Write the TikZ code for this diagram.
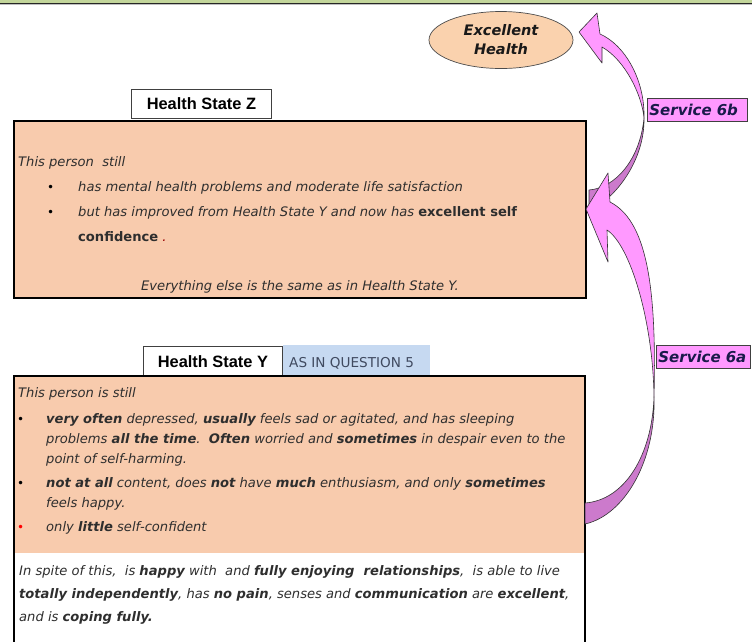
\documentclass[tikz,border=0pt]{standalone}
\usepackage{fontspec}
\setmainfont{DejaVu Sans}
\newfontfamily\lsans{Liberation Sans}
\usetikzlibrary{shapes.geometric}
\definecolor{peach}{HTML}{F8CBAD}
\definecolor{ellfill}{HTML}{FAD2AE}
\definecolor{pinkf}{HTML}{FF99FF}
\definecolor{pinkb}{HTML}{CC7ACC}
\definecolor{skyb}{HTML}{C6D9F1}
\definecolor{barg}{HTML}{C3D69B}
\definecolor{navy}{HTML}{1A1A4A}
\definecolor{txtc}{HTML}{2E2E2E}
\definecolor{qcol}{HTML}{404A60}
\tikzset{
  txt/.style={font=\fontsize{13.1}{15}\selectfont\itshape, text=txtc, inner sep=0pt, anchor=base west},
  dot/.style={font=\fontsize{12}{14}\selectfont, inner sep=0pt, anchor=base west},
  titlebox/.style={draw=black!75, line width=0.9pt, fill=white, inner sep=0pt,
    font=\lsans\bfseries\fontsize{16.4}{18}\selectfont},
  svc/.style={draw=black!75, line width=0.8pt, fill=pinkf, anchor=north west,
    inner xsep=2pt, inner ysep=0pt, minimum height=23pt, align=left,
    font=\bfseries\itshape\fontsize{15}{17}\selectfont, text=navy},
  arrowline/.style={draw=black!80, line width=0.6pt, line join=round},
  boxline/.style={draw=black, line width=1.8pt}
}
\begin{document}
\begin{tikzpicture}[x=1pt,y=-1pt]
\useasboundingbox (0,0) rectangle (752,641);
\fill[white] (0,0) rectangle (752,641);

% top rule
\fill[barg] (0,0) rectangle (752,3);
\fill[black!85] (0,3) rectangle (752,4.3);
\fill[black!25] (0,4.3) rectangle (752,5.3);

% goal state
\node[ellipse, draw=black!70, line width=0.7pt, fill=ellfill, minimum width=144pt, minimum height=57pt,
      inner sep=0pt, align=center, font=\bfseries\itshape\fontsize{14.5}{19}\selectfont, text=black!90]
      (eh) at (501,40) {Excellent\\Health};

% ---------- Health State Z ----------
\node[titlebox, minimum width=140pt, minimum height=29pt, anchor=north west] (zt) at (131,89) {Health State Z};
\path[fill=peach, boxline] (14,121) rectangle (586,298);

\node[txt] (z0) at (18,166.5) {This person\ \ still};
\node[dot] (zb1) at (47,191.5) {•};
\node[txt] (z1) at (78,191.5) {has mental health problems and moderate life satisfaction};
\node[dot] (zb2) at (47,216.5) {•};
\node[txt] (z2) at (78,216.5) {but has improved from Health State Y and now has \textbf{\upshape excellent self}};
\node[txt] (z3) at (78,241.5) {\textbf{\upshape confidence} \textcolor{red!60!black}{.}};
\node[txt, anchor=base] (z4) at (300,290.5) {Everything else is the same as in Health State Y.};

% ---------- Health State Y ----------
\node[titlebox, minimum width=139pt, minimum height=30pt, anchor=north west] (yt) at (143,346) {Health State Y};
\node[fill=skyb, minimum width=147pt, minimum height=31pt, anchor=north west, inner sep=0pt] (yq) at (282.5,345) {};
\node[inner sep=0pt, anchor=base west, font=\fontsize{13.6}{15}\selectfont, text=qcol] (yqt) at (289,367) {AS IN QUESTION 5};

\fill[peach] (14,376) rectangle (585,553);
\draw[boxline] (14,645) -- (14,376) -- (585,376) -- (585,645);

\node[txt] (y0) at (18,397.5) {This person is still};
\node[dot] (yb1) at (17,423.5) {•};
\node[txt] (y1) at (46,423.5) {\textbf{very often} depressed, \textbf{usually} feels sad or agitated, and has sleeping};
\node[txt] (y2) at (46,443.5) {problems \textbf{all the time}.\ \ \textbf{Often} worried and \textbf{sometimes} in despair even to the};
\node[txt] (y3) at (46,463.5) {point of self-harming.};
\node[dot] (yb2) at (17,487.5) {•};
\node[txt] (y4) at (46,487.5) {\textbf{not at all} content, does \textbf{not} have \textbf{much} enthusiasm, and only \textbf{sometimes}};
\node[txt] (y5) at (46,507.5) {feels happy.};
\node[dot, text=red] (yb3) at (17,531.5) {•};
\node[txt] (y6) at (46,531.5) {only \textbf{little} self-confident};

\node[txt] (w1) at (19,575.5) {In spite of this,\ \ is \textbf{happy} with\ \ and \textbf{fully enjoying\ \ relationships},\ \ is able to live};
\node[txt] (w2) at (19,598.5) {\textbf{totally independently}, has \textbf{no pain}, senses and \textbf{communication} are \textbf{excellent},};
\node[txt] (w3) at (19,621.5) {and is \textbf{coping fully.}};

% ---------- Service 6b : Z -> Excellent Health ----------
\filldraw[arrowline, fill=pinkb] (644,118) .. controls (645,160) and (615,200) .. (589,210)
  -- (589,190) .. controls (615,188) and (640,160) .. (644,118) -- cycle;
\filldraw[arrowline, fill=pinkf] (600,34) .. controls (625,45) and (645,80) .. (644,118)
  .. controls (642,95) and (625,60) .. (602,47) -- (602,63) -- (579,32) -- (597,13) -- cycle;

% ---------- Service 6a : Y -> Z ----------
\filldraw[arrowline, fill=pinkb] (654,397) .. controls (656,460) and (625,515) .. (585,524)
  -- (585,503) .. controls (625,500) and (652,455) .. (654,397) -- cycle;
\filldraw[arrowline, fill=pinkf] (610,202) .. controls (645,220) and (657,280) .. (654,397)
  .. controls (653,320) and (630,245) .. (607,230) -- (608,262) -- (586,209) -- (608,173) -- cycle;

% service labels
\node[svc, text width=96pt] (s6b) at (647,98) {Service 6b};
\node[svc, text width=90pt] (s6a) at (656,345) {Service 6a};
\end{tikzpicture}
\end{document}
